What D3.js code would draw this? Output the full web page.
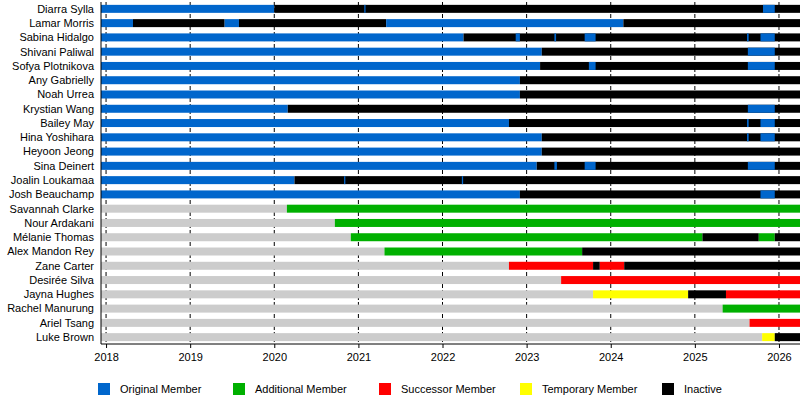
<!DOCTYPE html>
<html><head><meta charset="utf-8">
<script src="https://cdn.jsdelivr.net/npm/d3@7"></script>
<style>body{margin:0;background:#fff}text{font-family:"Liberation Sans",Arial,sans-serif;font-size:11px;fill:#000}</style>
</head><body><svg id="c" width="800" height="400"></svg>
<script>
const members = ['Diarra Sylla','Lamar Morris','Sabina Hidalgo','Shivani Paliwal','Sofya Plotnikova','Any Gabrielly','Noah Urrea','Krystian Wang','Bailey May','Hina Yoshihara','Heyoon Jeong','Sina Deinert','Joalin Loukamaa','Josh Beauchamp','Savannah Clarke','Nour Ardakani','Mélanie Thomas','Alex Mandon Rey','Zane Carter','Desirée Silva','Jayna Hughes','Rachel Manurung','Ariel Tsang','Luke Brown'];
const startYear = 2017.94, endYear = 2026.25;
const years = [2018,2019,2020,2021,2022,2023,2024,2025,2026];
// segments per member: [type, from, to]
const periods = [
  [['O',startYear,2020.0],['I',2020.0,endYear],['O',2021.07,2021.085],['O',2025.81,2025.95]],
  [['O',startYear,2018.32],['I',2018.32,2019.41],['O',2019.41,2019.58],['I',2019.58,2021.33],['O',2021.33,2024.15],['I',2024.15,endYear]],
  [['O',startYear,2022.25],['I',2022.25,endYear],['O',2022.87,2022.92],['O',2023.33,2023.35],['O',2023.69,2023.82],['O',2025.62,2025.64],['O',2025.78,2025.95]],
  [['O',startYear,2023.18],['I',2023.18,endYear],['O',2025.63,2025.95]],
  [['O',startYear,2023.16],['I',2023.16,endYear],['O',2023.74,2023.82],['O',2025.63,2025.95]],
  [['O',startYear,2022.92],['I',2022.92,endYear]],
  [['O',startYear,2022.92],['I',2022.92,endYear]],
  [['O',startYear,2020.16],['I',2020.16,endYear],['O',2025.63,2025.95]],
  [['O',startYear,2022.79],['I',2022.79,endYear],['O',2025.62,2025.64],['O',2025.78,2025.95]],
  [['O',startYear,2023.18],['I',2023.18,endYear],['O',2025.62,2025.64],['O',2025.78,2025.95]],
  [['O',startYear,2023.18],['I',2023.18,endYear]],
  [['O',startYear,2023.12],['I',2023.12,endYear],['O',2023.33,2023.36],['O',2023.69,2023.82],['O',2025.63,2025.95]],
  [['O',startYear,2020.24],['I',2020.24,endYear],['O',2020.83,2020.845],['O',2022.23,2022.245]],
  [['O',startYear,2022.92],['I',2022.92,endYear],['O',2025.78,2025.95]],
  [['N',startYear,2020.15],['A',2020.15,endYear]],
  [['N',startYear,2020.72],['A',2020.72,endYear]],
  [['N',startYear,2020.91],['A',2020.91,2025.09],['I',2025.09,2025.76],['A',2025.76,2025.95],['I',2025.95,endYear]],
  [['N',startYear,2021.31],['A',2021.31,2023.66],['I',2023.66,endYear]],
  [['N',startYear,2022.79],['S',2022.79,2023.79],['I',2023.79,2023.87],['S',2023.87,2024.16],['I',2024.16,endYear]],
  [['N',startYear,2023.41],['S',2023.41,endYear]],
  [['N',startYear,2023.79],['T',2023.79,2024.92],['I',2024.92,2025.37],['S',2025.37,endYear]],
  [['N',startYear,2025.33],['A',2025.33,endYear]],
  [['N',startYear,2025.65],['S',2025.65,endYear]],
  [['N',startYear,2025.80],['T',2025.80,2025.95],['I',2025.95,endYear]]
];
const legendKeys = ['O','A','S','T','I'];
const legendLabels = ['Original Member','Additional Member','Successor Member','Temporary Member','Inactive'];
const colors = {O:'#0066cc',A:'#00b000',S:'#ff0000',T:'#ffff00',I:'#000000',N:'#cccccc'};

const svg = d3.select('#c');
const x = d3.scaleLinear().domain([startYear,endYear]).range([101,800]);
const y = d3.scaleBand().domain(members).range([2,344]).paddingInner(0.44).paddingOuter(0.2);

svg.append('g').selectAll('line').data(years).join('line')
  .attr('x1',d=>x(d)).attr('x2',d=>x(d)).attr('y1',2).attr('y2',344)
  .attr('stroke','#000').attr('stroke-dasharray','4,2');

members.forEach((m,i)=>{
  svg.append('g').selectAll('rect').data(periods[i]).join('rect')
    .attr('x',d=>x(d[1])).attr('width',d=>Math.max(1,x(d[2])-x(d[1])))
    .attr('y',y(m)).attr('height',y.bandwidth())
    .attr('fill',d=>colors[d[0]]);
});

svg.append('g').selectAll('text').data(members).join('text')
  .attr('x',94).attr('y',d=>y(d)+y.bandwidth()/2).attr('dy','0.35em')
  .attr('text-anchor','end').text(d=>d);

svg.append('line').attr('x1',101).attr('x2',101).attr('y1',2).attr('y2',344).attr('stroke','#000');
svg.append('line').attr('x1',101).attr('x2',800).attr('y1',344).attr('y2',344).attr('stroke','#000');

const ax = svg.append('g').attr('transform','translate(0,344)')
  .call(d3.axisBottom(x).tickValues(years).tickFormat(d3.format('d')).tickSize(4));
ax.select('.domain').remove();
ax.selectAll('text').style('font-family','"Liberation Sans",Arial,sans-serif').style('font-size','11px').attr('dy','0.9em');

const lx = [98,233,379,520,662];
const lg = svg.append('g').selectAll('g').data(legendKeys).join('g')
  .attr('transform',(d,i)=>`translate(${lx[i]},383)`);
lg.append('rect').attr('width',12).attr('height',12).attr('fill',d=>colors[d]);
lg.append('text').attr('x',22).attr('y',6).attr('dy','0.35em').text((d,i)=>legendLabels[i]);
</script></body></html>
